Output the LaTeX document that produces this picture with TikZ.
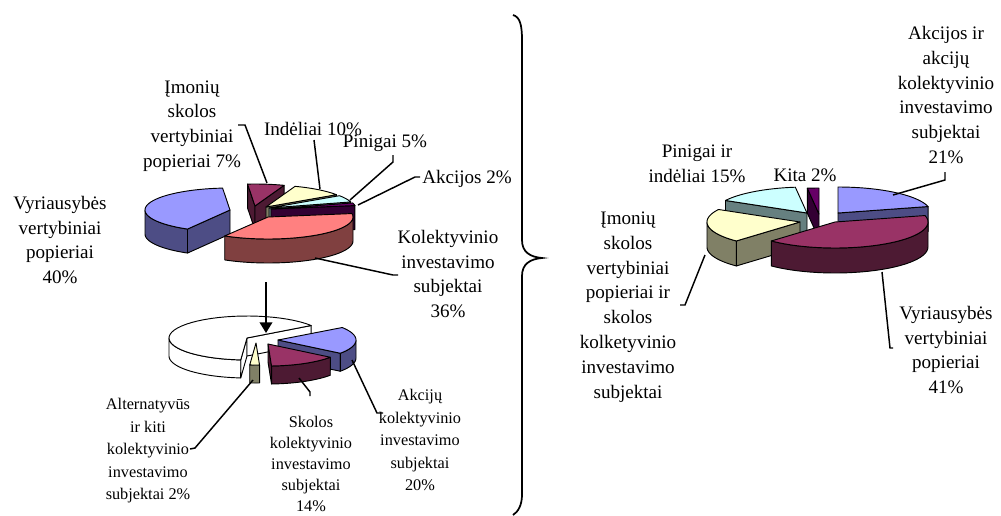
\documentclass[tikz,border=0pt]{standalone}
\usepackage{fontspec}
\setmainfont{Liberation Serif}
\usetikzlibrary{arrows.meta}
\definecolor{blueT}{HTML}{9999FF}\definecolor{blueS}{HTML}{4D4D85}
\definecolor{marT}{HTML}{993366}\definecolor{marS}{HTML}{4D1A33}
\definecolor{yelT}{HTML}{FFFFCC}\definecolor{yelS}{HTML}{808066}
\definecolor{cyaT}{HTML}{CCFFFF}\definecolor{cyaS}{HTML}{668080}
\definecolor{purT}{HTML}{660066}\definecolor{purS}{HTML}{330033}
\definecolor{salT}{HTML}{FF8080}\definecolor{salS}{HTML}{804040}
\def\pRX{85}\def\pRY{22}\def\pH{24}
\newcommand\pwall[4]{\filldraw[pieline, fill=#4] (#1,#2) -- ({#1+\pRX*cos(#3)},{#2+\pRY*sin(#3)}) -- ++(0,\pH) -- (#1,{#2+\pH}) -- cycle;}
\newcommand\pband[5]{\filldraw[pieline, fill=#5] plot[domain=#3:#4, samples=30, variable=\t] ({#1+\pRX*cos(\t)},{#2+\pRY*sin(\t)}) -- plot[domain=0:1, samples=30, variable=\s] ({#1+\pRX*cos(#4-(#4-#3)*\s)},{#2+\pH+\pRY*sin(#4-(#4-#3)*\s)}) -- cycle;}
\newcommand\pslice[6]{%
 \pgfmathsetmacro\pA{#3}\pgfmathsetmacro\pB{#4}%
 \pgfmathsetmacro\pCa{cos(\pA)}\pgfmathsetmacro\pCb{cos(\pB)}%
 \ifdim\pCa pt<-0.01pt \pwall{#1}{#2}{\pA}{#6}\fi
 \ifdim\pCb pt>0.01pt \pwall{#1}{#2}{\pB}{#6}\fi
 \pgfmathsetmacro\pLo{max(\pA,0)}\pgfmathsetmacro\pHi{min(\pB,180)}%
 \ifdim\pLo pt<\pHi pt \pband{#1}{#2}{\pLo}{\pHi}{#6}\fi
 \pgfmathsetmacro\pLo{max(\pA,360)}\pgfmathsetmacro\pHi{min(\pB,540)}%
 \ifdim\pLo pt<\pHi pt \pband{#1}{#2}{\pLo}{\pHi}{#6}\fi
 \filldraw[pieline, fill=#5] (#1,#2) -- plot[domain=\pA:\pB, samples=40, variable=\t] ({#1+\pRX*cos(\t)},{#2+\pRY*sin(\t)}) -- cycle;}
\begin{document}
\begin{tikzpicture}[x=0.75pt,y=-0.75pt,
  pieline/.style={draw=black, line width=0.7pt, line join=round},
  lbl/.style={align=center, inner sep=0pt, font=\fontsize{14.3}{18.6}\selectfont},
  lbls/.style={align=center, inner sep=0pt, font=\fontsize{12.2}{16.9}\selectfont},
  leader/.style={draw=black, line width=1.1pt},
  bracestyle/.style={draw=black, line width=1.3pt}]
\useasboundingbox[fill=white] (0,0) rectangle (1001,515);
% ---------- top-left pie
\def\pRX{85}\def\pRY{22}\def\pH{24}
\pslice{255}{206}{265}{290}{marT}{marS}
\pslice{266}{207}{290}{326}{yelT}{yelS}
\pslice{269}{208}{326}{344}{cyaT}{cyaS}
\pslice{271}{209}{344}{351}{purT}{purS}
\pslice{230}{210}{120}{265}{blueT}{blueS}
\pslice{268}{217}{351}{480.6}{salT}{salS}
% ---------- bottom-left pie
\def\pRX{78}\def\pRY{22}\def\pH{18}
\pslice{247}{338}{94.6}{325.4}{white}{white}
\pslice{278}{340}{325.4}{397}{blueT}{blueS}
\pslice{268}{344}{397}{447.4}{marT}{marS}
\pslice{256}{343}{447.4}{454.6}{yelT}{yelS}
% ---------- right pie
\def\pRX{93}\def\pRY{26}\def\pH{25}
\pslice{807}{213}{208.8}{262.8}{cyaT}{cyaS}
\pslice{819}{214}{262.8}{270}{purT}{purS}
\pslice{838}{213}{270}{345.6}{blueT}{blueS}
\pslice{800}{222}{133.2}{208.8}{yelT}{yelS}
\pslice{835}{222}{345.6}{493.2}{marT}{marS}
% ---------- labels
\node[lbl] (l40) at (60,240) {Vyriausybės\\vertybiniai\\popieriai\\40\%};
\node[lbl] (l7) at (192,126) {Įmonių\\skolos\\vertybiniai\\popieriai 7\%};
\node[lbl] (l10) at (313,129) {Indėliai 10\%};
\node[lbl] (l5) at (385,143) {Pinigai 5\%};
\node[lbl] (l2) at (467,179) {Akcijos 2\%};
\node[lbl] (l36) at (448,274) {Kolektyvinio\\investavimo\\subjektai\\36\%};
\node[lbls] (alt) at (148,451) {Alternatyvūs\\ir kiti\\kolektyvinio\\investavimo\\subjektai 2\%};
\node[lbls, font=\fontsize{12.2}{15.8}\selectfont] (sk) at (311,464) {Skolos\\kolektyvinio\\investavimo\\subjektai\\14\%};
\node[lbls] (ak) at (420,440) {Akcijų\\kolektyvinio\\investavimo\\subjektai\\20\%};
\node[lbl] (r21) at (946,95) {Akcijos ir\\akcijų\\kolektyvinio\\investavimo\\subjektai\\21\%};
\node[lbl] (r15) at (697,164) {Pinigai ir\\indėliai 15\%};
\node[lbl] (rk) at (805,175) {Kita 2\%};
\node[lbl] (rim) at (628,307) {Įmonių\\skolos\\vertybiniai\\popieriai ir\\skolos\\kolketyvinio\\investavimo\\subjektai};
\node[lbl] (r41) at (946,350) {Vyriausybės\\vertybiniai\\popieriai\\41\%};
% ---------- leaders
\draw[leader] (238,125) -- (245,125) -- (267,183);
\draw[leader] (314,140) -- (320,189);
\draw[leader] (393,155) -- (393,162) -- (350,200);
\draw[leader] (420,177) -- (415,177) -- (358,205);
\draw[leader] (315,258) -- (393,275) -- (398,275);
\draw[leader] (253,380) -- (195,448) -- (190,449);
\draw[leader] (299,378) -- (310,392) -- (310,396);
\draw[leader] (352,360) -- (377,413) -- (383,413);
\draw[leader] (893,195) -- (945,180) -- (945,172);
\draw[leader] (705,255) -- (685,305) -- (680,305);
\draw[leader] (882,272) -- (890,348) -- (893,348);
% ---------- arrow
\coordinate (arA) at (266,282);
\coordinate (arB) at (266,333);
\draw[leader, -{Triangle[length=8pt,width=9.5pt]}] (arA) -- (arB);
% ---------- brace
\draw[bracestyle] (513,15) .. controls (520,17) and (522,25) .. (522,40) -- (522,240) .. controls (522,252) and (530,257) .. (542,258) .. controls (530,259) and (522,264) .. (522,276) -- (522,495) .. controls (522,505) and (518,512) .. (513,515);
\end{tikzpicture}
\end{document}
